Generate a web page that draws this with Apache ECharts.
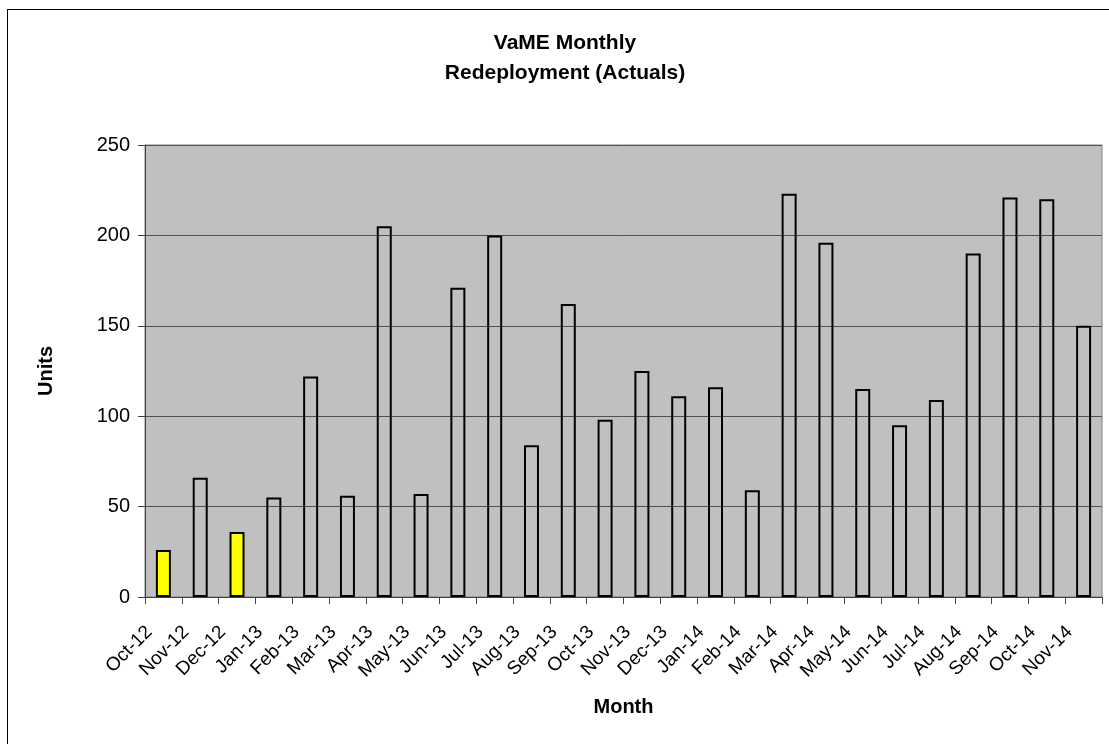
<!DOCTYPE html>
<html>
<head>
<meta charset="utf-8">
<script src="https://cdn.jsdelivr.net/npm/echarts@6/dist/echarts.min.js"></script>
<style>
  html, body {
    margin: 0;
    padding: 0;
    width: 1109px;
    height: 744px;
    overflow: hidden;
    background: #ffffff;
  }
  .frame {
    position: absolute;
    left: 7px;
    top: 9px;
    width: 1114px;
    height: 800px;
    border: 1px solid #000000;
  }
  #chart {
    position: absolute;
    left: 0;
    top: 0;
    width: 1114px;
    height: 734px;
  }
</style>
</head>
<body>
<div class="frame">
  <div id="chart"></div>
</div>
<script>
const months = [
  "Oct-12", "Nov-12", "Dec-12", "Jan-13", "Feb-13", "Mar-13", "Apr-13",
  "May-13", "Jun-13", "Jul-13", "Aug-13", "Sep-13", "Oct-13", "Nov-13",
  "Dec-13", "Jan-14", "Feb-14", "Mar-14", "Apr-14", "May-14", "Jun-14",
  "Jul-14", "Aug-14", "Sep-14", "Oct-14", "Nov-14"
];
const units = [
  26, 66, 36, 55, 122, 56, 205,
  57, 171, 200, 84, 162, 98, 125,
  111, 116, 59, 223, 196, 115, 95,
  109, 190, 221, 220, 150
];
const highlighted = ["Oct-12", "Dec-12"];
const yTicks = [0, 50, 100, 150, 200, 250];

const font = "'Liberation Sans', Arial, sans-serif";

// plain bars are left unfilled so the grey plot area shows through
const barData = units.map((v, i) => {
  return {
    value: v,
    itemStyle: {
      color: highlighted.includes(months[i]) ? "#ffff00" : "rgba(0,0,0,0)"
    }
  };
});

const chart = echarts.init(document.getElementById("chart"));

chart.setOption({
  animation: false,
  title: {
    text: "VaME Monthly\nRedeployment (Actuals)",
    left: "center",
    top: 18,
    padding: 0,
    textStyle: {
      fontFamily: font,
      fontSize: 21,
      fontWeight: "bold",
      color: "#000000",
      lineHeight: 30
    }
  },
  grid: {
    left: 137,
    right: 20,
    top: 135,
    bottom: 147,
    show: true,
    backgroundColor: "#c0c0c0",
    borderColor: "#808080",
    borderWidth: 1
  },
  xAxis: {
    type: "category",
    data: months,
    name: "Month",
    nameLocation: "middle",
    nameGap: 100,
    nameTextStyle: {
      fontFamily: font,
      fontSize: 20,
      fontWeight: "bold",
      color: "#000000"
    },
    axisLine: { lineStyle: { color: "#404040", width: 1 } },
    axisTick: { show: true, length: 7, lineStyle: { color: "#404040" } },
    axisLabel: {
      rotate: 45,
      margin: 18,
      padding: [0, 20, 0, 0],
      interval: 0,
      fontFamily: font,
      fontSize: 19,
      color: "#000000"
    },
    splitLine: { show: false }
  },
  yAxis: {
    type: "value",
    min: yTicks[0],
    max: yTicks[yTicks.length - 1],
    interval: 50,
    name: "Units",
    nameLocation: "middle",
    nameGap: 89,
    nameTextStyle: {
      fontFamily: font,
      fontSize: 20,
      fontWeight: "bold",
      color: "#000000"
    },
    axisLine: { show: true, lineStyle: { color: "#404040", width: 1 } },
    axisTick: { show: true, length: 7, lineStyle: { color: "#404040" } },
    axisLabel: {
      margin: 15,
      fontFamily: font,
      fontSize: 20,
      color: "#000000"
    },
    splitLine: { lineStyle: { color: "#505050", width: 1 } }
  },
  series: [
    {
      name: "Units",
      type: "bar",
      data: barData,
      barWidth: 15,
      itemStyle: {
        borderColor: "#000000",
        borderWidth: 2
      }
    }
  ]
});
</script>
</body>
</html>
